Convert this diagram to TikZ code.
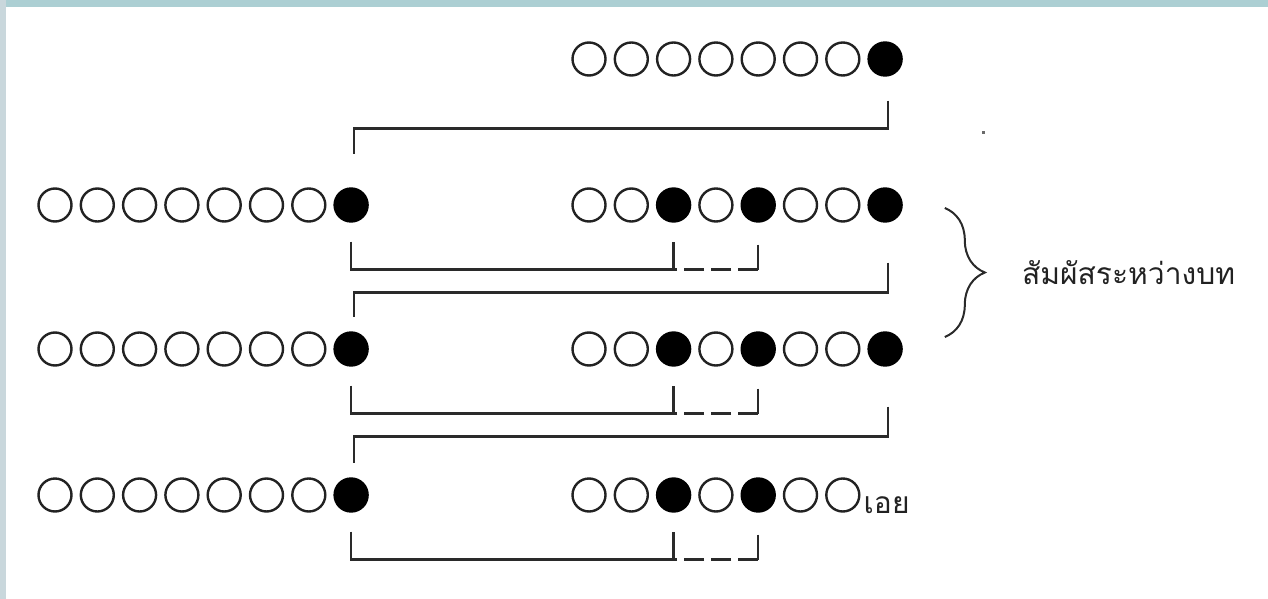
\documentclass[tikz,border=0pt]{standalone}
\usepackage{fontspec}
\usepackage{tikz}
\usetikzlibrary{positioning,decorations.pathreplacing}
\newfontfamily\thaifont[Script=Thai]{Loma}
\definecolor{ink}{HTML}{222222}
\definecolor{linegrey}{HTML}{2A2A2A}
\definecolor{frametop}{HTML}{ACCFD3}
\definecolor{frameleft}{HTML}{C9D7DC}
\newcommand{\beadrow}[4]{\foreach \s [count=\k] in {#4} {\node[\s] (#1-\k) at ({#2+42.3*(\k-1)},#3) {};}}
\tikzset{openbead/.style={circle,draw=ink,fill=white,minimum size=33pt,inner sep=0pt,line width=2.4pt}}
\tikzset{fullbead/.style={openbead,fill=black,draw=black}}
\tikzset{bracket/.style={draw=linegrey,line width=2.5pt}}
\tikzset{thaitext/.style={draw=none,color=ink,font=\thaifont\fontsize{30}{36}\selectfont,inner sep=0pt}}

\begin{document}
\begin{tikzpicture}[x=1pt,y=-1pt]
        \useasboundingbox (0,0) rectangle (1268,599);
        \fill[frametop] (0,0) rectangle (1268,7);
        \fill[frameleft] (0,0) rectangle (6,599);

        \beadrow{r1}{589}{59}{openbead,openbead,openbead,openbead,openbead,openbead,openbead,fullbead}
        \beadrow{l2}{55}{205}{openbead,openbead,openbead,openbead,openbead,openbead,openbead,fullbead}
        \beadrow{r2}{589}{205}{openbead,openbead,fullbead,openbead,fullbead,openbead,openbead,fullbead}
        \beadrow{l3}{55}{349}{openbead,openbead,openbead,openbead,openbead,openbead,openbead,fullbead}
        \beadrow{r3}{589}{349}{openbead,openbead,fullbead,openbead,fullbead,openbead,openbead,fullbead}
        \beadrow{l4}{55}{495}{openbead,openbead,openbead,openbead,openbead,openbead,openbead,fullbead}
        \beadrow{r4}{589}{495}{openbead,openbead,fullbead,openbead,fullbead,openbead,openbead}
        \node[thaitext,right=3pt of r4-7,yshift=-10pt] (oei) {เอย};

        \draw[bracket] ([xshift=3pt,yshift=-24pt]r1-8.south) -- ++(0,-28pt) -| ([xshift=3pt,yshift=33pt]l2-8.north);
        \foreach \row/\nxt in {2/3,3/4}
            \draw[bracket] ([xshift=3pt,yshift=-40pt]r\row-8.south) -- ++(0,-30pt) -| ([xshift=3pt,yshift=14pt]l\nxt-8.north);
        \foreach \row in {2,3,4} {
            \draw[bracket] ([yshift=-19pt]l\row-8.south) -- ++(0,-28pt) -| ([yshift=-19pt]r\row-3.south);
            \draw[bracket] ([yshift=-22pt]r\row-5.south) -- ++(0,-25pt) coordinate (gap\row);
            \draw[bracket,dash pattern=on 20pt off 7pt] (gap\row) -- (gap\row -| r\row-3);
        }

        \coordinate (bracetop) at ([xshift=42pt,yshift=-3pt]r2-8.east);
        \coordinate (bracebot) at ([xshift=42pt,yshift=12pt]r3-8.east);
        \draw[bracket,line width=2pt,decorate,decoration={brace,amplitude=40pt}] (bracetop) -- (bracebot);
        \path (bracetop) -- (bracebot) coordinate[midway,xshift=40pt] (bracetip);
        \node[thaitext,right=37pt of bracetip] (rhyme) {สัมผัสระหว่างบท};

        \fill[linegrey!70] (982,131) rectangle (985,134);
    \end{tikzpicture}
\end{document}
